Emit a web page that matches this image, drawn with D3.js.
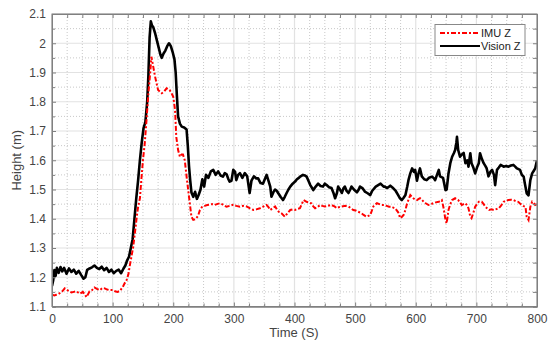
<!DOCTYPE html>
<html>
<head>
<meta charset="utf-8">
<script src="https://cdn.jsdelivr.net/npm/d3@7"></script>
<style>
  body { margin: 0; background: #fff; }
  text { font-family: "Liberation Sans", Arial, sans-serif; }
</style>
</head>
<body>
<svg width="549" height="343"></svg>
<script>
// Vision Z (black), ten values per row
const visionTime = [
  0,2,4,6,8,11,14,17,20,24,
  28,32,36,40,44,48,52,55,58,62,
  66,70,74,78,82,86,90,94,98,102,
  106,110,114,118,121,124,127,130,133,136,
  139,142,145,148,151,154,157,159,161,163,
  165,167,170,173,176,179,181,184,187,190,
  193,196,199,202,204,206,208,211,214,218,
  222,224,226,228,230,233,236,239,242,245,
  248,251,254,258,262,266,270,274,278,282,
  285,288,291,293,296,299,302,304,307,310,
  314,318,322,326,329,333,337,340,344,348,
  351,354,357,360,362,365,368,371,373,377,
  381,384,387,390,393,397,401,404,406,410,
  414,417,420,423,426,429,431,435,439,443,
  447,450,453,457,461,464,467,470,472,475,
  478,481,483,486,489,492,494,498,503,506,
  508,512,516,520,525,528,530,534,538,542,
  547,549,553,558,563,567,571,574,577,580,
  583,586,588,591,594,597,599,602,604,607,
  610,614,618,622,627,630,632,635,638,640,
  645,647,649,651,654,657,660,663,665,667,
  668,670,673,676,679,682,685,687,690,692,
  695,698,701,704,706,709,712,715,717,720,
  723,726,729,731,734,737,740,745,749,753,
  757,761,764,767,772,775,778,780,783,786,
  789,792,795,797,800];
const visionZ = [
  1.17,1.19,1.225,1.205,1.232,1.215,1.235,1.22,1.232,1.212,
  1.23,1.218,1.226,1.212,1.222,1.208,1.195,1.2,1.225,1.23,
  1.234,1.24,1.232,1.228,1.236,1.224,1.232,1.218,1.226,1.214,
  1.222,1.226,1.214,1.23,1.24,1.258,1.27,1.3,1.33,1.4,
  1.47,1.53,1.6,1.66,1.71,1.73,1.8,1.89,2.02,2.075,
  2.06,2.055,2.035,2.01,1.985,1.96,1.95,1.965,1.975,1.99,
  2.0,1.99,1.97,1.945,1.9,1.82,1.75,1.725,1.715,1.712,
  1.705,1.65,1.58,1.53,1.49,1.475,1.492,1.468,1.482,1.5,
  1.535,1.51,1.55,1.54,1.562,1.567,1.55,1.562,1.548,1.544,
  1.556,1.552,1.535,1.527,1.53,1.567,1.56,1.532,1.55,1.556,
  1.54,1.556,1.545,1.488,1.53,1.545,1.538,1.538,1.522,1.52,
  1.535,1.55,1.53,1.51,1.475,1.49,1.5,1.495,1.488,1.475,
  1.464,1.475,1.488,1.5,1.51,1.52,1.527,1.535,1.538,1.545,
  1.55,1.548,1.544,1.53,1.515,1.505,1.498,1.51,1.52,1.512,
  1.51,1.52,1.515,1.508,1.505,1.49,1.47,1.488,1.51,1.5,
  1.488,1.505,1.51,1.495,1.488,1.5,1.51,1.5,1.49,1.5,
  1.51,1.505,1.493,1.488,1.481,1.495,1.5,1.51,1.515,1.52,
  1.51,1.51,1.505,1.513,1.504,1.495,1.481,1.47,1.464,1.472,
  1.481,1.51,1.532,1.555,1.572,1.56,1.567,1.53,1.55,1.572,
  1.545,1.535,1.532,1.54,1.544,1.538,1.532,1.55,1.567,1.545,
  1.54,1.52,1.498,1.5,1.555,1.59,1.612,1.625,1.635,1.66,
  1.68,1.635,1.612,1.62,1.625,1.59,1.6,1.578,1.624,1.59,
  1.575,1.555,1.575,1.59,1.624,1.605,1.59,1.58,1.572,1.545,
  1.56,1.567,1.55,1.515,1.567,1.575,1.584,1.578,1.58,1.578,
  1.582,1.584,1.578,1.572,1.567,1.55,1.544,1.52,1.487,1.48,
  1.532,1.555,1.565,1.572,1.6];

// IMU Z (red), ten values per row
const imuTime = [
  0,4,7,10,13,17,21,26,32,36,
  40,46,51,54,57,62,66,70,74,79,
  83,87,91,95,100,104,108,112,117,120,
  123,126,128,131,134,136,138,140,142,145,
  148,150,153,156,159,162,164,167,170,175,
  181,185,189,194,197,200,203,205,208,211,
  214,216,219,222,226,230,233,236,238,241,
  244,248,252,256,260,264,268,272,277,282,
  288,293,299,304,310,315,321,326,332,337,
  343,349,354,357,360,364,368,371,374,379,
  384,388,393,397,401,405,409,412,415,420,
  424,428,431,434,438,442,446,450,455,461,
  466,470,474,478,484,489,493,497,501,505,
  510,514,519,522,525,528,530,533,536,540,
  544,548,552,556,560,563,566,569,572,574,
  577,580,583,585,588,591,594,596,599,602,
  605,607,610,613,617,621,625,629,633,638,
  641,643,646,649,651,654,657,660,665,670,
  673,676,679,682,685,687,690,692,695,698,
  701,704,709,712,715,718,721,725,729,733,
  737,741,745,749,753,757,761,765,769,772,
  775,778,781,783,786,789,792,795,797,800];
const imuZ = [
  1.14,1.138,1.14,1.142,1.146,1.152,1.162,1.155,1.148,1.15,
  1.152,1.144,1.15,1.142,1.132,1.152,1.156,1.165,1.16,1.156,
  1.163,1.162,1.158,1.156,1.156,1.152,1.15,1.153,1.168,1.18,
  1.19,1.21,1.236,1.27,1.304,1.34,1.373,1.41,1.44,1.47,
  1.55,1.6,1.658,1.74,1.829,1.9,1.954,1.92,1.886,1.84,
  1.829,1.835,1.846,1.84,1.83,1.817,1.772,1.68,1.635,1.612,
  1.62,1.62,1.6,1.544,1.475,1.407,1.396,1.398,1.402,1.41,
  1.43,1.442,1.444,1.447,1.448,1.45,1.447,1.45,1.453,1.448,
  1.441,1.444,1.448,1.444,1.441,1.444,1.442,1.436,1.43,1.432,
  1.436,1.442,1.447,1.44,1.43,1.436,1.442,1.432,1.424,1.418,
  1.407,1.418,1.43,1.432,1.43,1.434,1.436,1.45,1.464,1.458,
  1.455,1.453,1.442,1.436,1.44,1.447,1.444,1.442,1.444,1.447,
  1.442,1.436,1.44,1.442,1.444,1.442,1.436,1.43,1.428,1.424,
  1.42,1.413,1.407,1.41,1.413,1.43,1.442,1.448,1.453,1.45,
  1.447,1.447,1.444,1.441,1.441,1.438,1.436,1.428,1.419,1.402,
  1.406,1.413,1.43,1.447,1.465,1.481,1.474,1.47,1.466,1.464,
  1.468,1.47,1.465,1.458,1.452,1.447,1.45,1.453,1.456,1.458,
  1.462,1.464,1.436,1.396,1.384,1.43,1.45,1.464,1.47,1.464,
  1.456,1.447,1.45,1.453,1.445,1.436,1.407,1.402,1.42,1.441,
  1.45,1.458,1.458,1.45,1.441,1.435,1.43,1.432,1.43,1.433,
  1.436,1.446,1.458,1.462,1.464,1.465,1.464,1.46,1.458,1.452,
  1.447,1.443,1.441,1.407,1.396,1.441,1.458,1.452,1.447,1.45];

const xTicks = [0,100,200,300,400,500,600,700,800];
const yTicks = [1.1,1.2,1.3,1.4,1.5,1.6,1.7,1.8,1.9,2.0,2.1];
const legendLabels = ["IMU Z", "Vision Z"];

const svg = d3.select('svg');
const mLeft = 52, mRight = 537, mTop = 14, mBottom = 306.5;
const w = mRight - mLeft, h = mBottom - mTop;

const x = d3.scaleLinear().domain([0, 800]).range([mLeft, mRight]);
const y = d3.scaleLinear().domain([1.1, 2.1]).range([mBottom, mTop]);

const minorX = d3.range(0, 801, 25).filter(v => v % 100 !== 0);
const minorY = d3.range(1.15, 2.1, 0.1);

// grid
const grid = svg.append('g');
grid.selectAll('.mx').data(minorX).join('line')
    .attr('x1', d => x(d)).attr('x2', d => x(d)).attr('y1', mTop).attr('y2', mBottom)
    .attr('stroke', '#c8c8c8').attr('stroke-dasharray', '1,2');
grid.selectAll('.my').data(minorY).join('line')
    .attr('y1', d => y(d)).attr('y2', d => y(d)).attr('x1', mLeft).attr('x2', mRight)
    .attr('stroke', '#c8c8c8').attr('stroke-dasharray', '1,2');
grid.selectAll('.gx').data(xTicks).join('line')
    .attr('x1', d => x(d)).attr('x2', d => x(d)).attr('y1', mTop).attr('y2', mBottom)
    .attr('stroke', '#e2e2e2').attr('stroke-width', 1.2);
grid.selectAll('.gy').data(yTicks).join('line')
    .attr('y1', d => y(d)).attr('y2', d => y(d)).attr('x1', mLeft).attr('x2', mRight)
    .attr('stroke', '#e2e2e2').attr('stroke-width', 1.2);

// data lines
svg.append('clipPath').attr('id', 'clip').append('rect')
    .attr('x', mLeft).attr('y', mTop).attr('width', w).attr('height', h);

const line = d3.line().x(d => x(d[0])).y(d => y(d[1]));
const visionData = d3.zip(visionTime, visionZ);
const imuData = d3.zip(imuTime, imuZ);

const plot = svg.append('g').attr('clip-path', 'url(#clip)');
plot.append('path').datum(visionData).attr('d', line)
    .attr('fill', 'none').attr('stroke', '#000').attr('stroke-width', 2.6)
    .attr('stroke-linejoin', 'round');
plot.append('path').datum(imuData).attr('d', line)
    .attr('fill', 'none').attr('stroke', '#ff0000').attr('stroke-width', 2)
    .attr('stroke-dasharray', '5,2,2,2');

// axes (ticks inward)
const axColor = '#808080';
svg.append('g').attr('transform', `translate(0,${mBottom})`)
    .call(d3.axisBottom(x).tickValues(xTicks).tickFormat(d3.format('d')).tickSize(-4).tickPadding(8));
svg.append('g').attr('transform', `translate(0,${mTop})`)
    .call(d3.axisTop(x).tickValues(d3.range(0, 801, 25)).tickFormat('').tickSize(-4));
svg.append('g').attr('transform', `translate(${mLeft},0)`)
    .call(d3.axisLeft(y).tickValues(yTicks).tickFormat(d => d === 2 ? '2' : d3.format('.1f')(d)).tickSize(-4).tickPadding(6));
svg.append('g').attr('transform', `translate(${mRight},0)`)
    .call(d3.axisRight(y).tickValues(d3.range(1.1, 2.11, 0.05)).tickFormat('').tickSize(-4));
svg.append('g').attr('transform', `translate(0,${mBottom})`)
    .call(d3.axisBottom(x).tickValues(minorX).tickFormat('').tickSize(-3));
svg.append('g').attr('transform', `translate(${mLeft},0)`)
    .call(d3.axisLeft(y).tickValues(minorY).tickFormat('').tickSize(-3));

svg.selectAll('.domain').attr('stroke', axColor);
svg.selectAll('.tick line').attr('stroke', axColor);
svg.selectAll('.tick text').attr('fill', '#444').style('font-size', '12px')
    .style('font-family', '"Liberation Sans", Arial, sans-serif');
svg.append('rect').attr('x', mLeft).attr('y', mTop).attr('width', w).attr('height', h)
    .attr('fill', 'none').attr('stroke', axColor);

// axis titles
svg.append('text').attr('x', 294).attr('y', 337).attr('text-anchor', 'middle')
    .attr('fill', '#444').style('font-size', '13px').text('Time (S)');
svg.append('text').attr('transform', `translate(21,${(mTop + mBottom) / 2}) rotate(-90)`)
    .attr('text-anchor', 'middle').attr('fill', '#444').style('font-size', '13px').text('Height (m)');

// legend
const lg = svg.append('g');
lg.append('rect').attr('x', 435).attr('y', 24.5).attr('width', 90).attr('height', 31)
    .attr('fill', '#fff').attr('stroke', '#888');
const styles = [{c: '#ff0000', w: 2, dash: '5,2,2,2'}, {c: '#000', w: 2.2, dash: null}];
legendLabels.forEach((lab, i) => {
    const yy = 33 + i * 13;
    lg.append('line').attr('x1', 440).attr('x2', 480).attr('y1', yy).attr('y2', yy)
        .attr('stroke', styles[i].c).attr('stroke-width', styles[i].w)
        .attr('stroke-dasharray', styles[i].dash);
    lg.append('text').attr('x', 481).attr('y', yy + 4).attr('fill', '#222')
        .style('font-size', '11px').text(lab);
});
</script>
</body>
</html>
